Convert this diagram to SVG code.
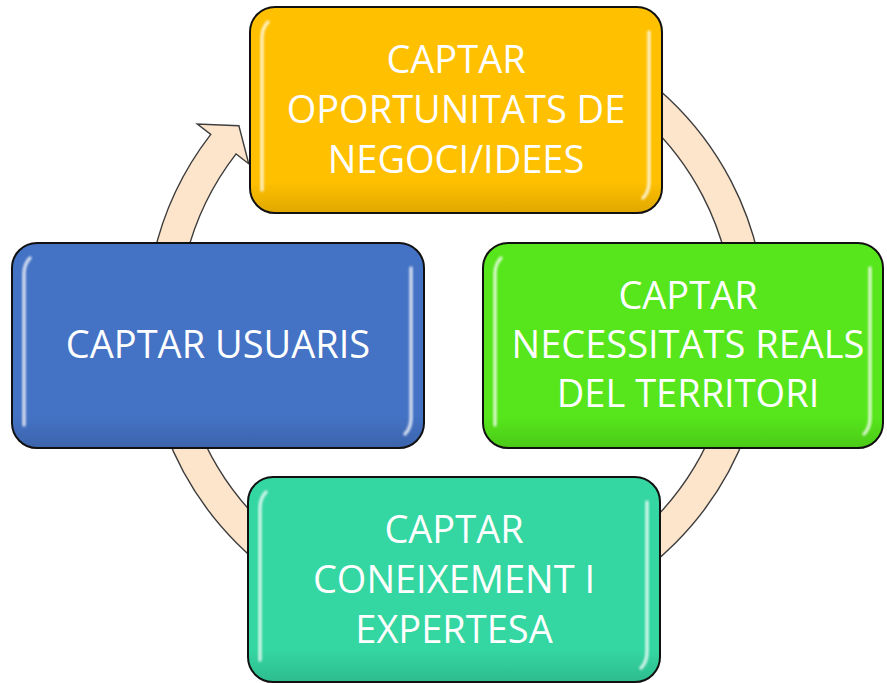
<svg xmlns="http://www.w3.org/2000/svg" width="887" height="683" viewBox="0 0 887 683">
<style>
.arrow{fill:#FDE5CC;stroke:#3d3d3d;stroke-width:1.4;stroke-linejoin:miter}
.box{stroke:#111;stroke-width:2}
.hl{fill:none;stroke:#fff;stroke-width:3.5;stroke-linecap:round;opacity:0.75;filter:url(#blur)}
.shade{fill:url(#shade)}
.lbl{font-family:"Open Sans","Liberation Sans",sans-serif;font-size:38px;fill:#fff;text-anchor:middle}
</style>
<defs>
<filter id="blur" x="-50%" y="-10%" width="200%" height="120%"><feGaussianBlur stdDeviation="0.9"/></filter>
<linearGradient id="shade" x1="0" y1="0" x2="0" y2="1">
<stop offset="0" stop-color="#000" stop-opacity="0"/>
<stop offset="0.85" stop-color="#000" stop-opacity="0"/>
<stop offset="1" stop-color="#000" stop-opacity="0.12"/>
</linearGradient>
</defs>
<rect width="887" height="683" fill="#fff"/>
<g id="connectors">
<path class="arrow" d="M150.71 270.17 A310 310 0 0 1 210.77 134.37 L197.32 123.97 L238.89 125.76 L248.74 163.73 L236.08 153.94 A278 278 0 0 0 182.22 275.73 Z"/>
<path class="arrow" d="M587.01 43.04 A310 310 0 0 1 761.29 377.83 L778.03 380.78 L740.38 398.61 L714.02 369.50 L729.78 372.27 A278 278 0 0 0 573.49 72.05 Z"/>
<path class="arrow" d="M747.30 430.03 A310 310 0 0 1 562.03 615.30 L567.84 631.28 L533.58 607.58 L545.61 570.20 L551.08 585.23 A278 278 0 0 0 717.23 419.08 Z"/>
<path class="arrow" d="M349.97 615.30 A310 310 0 0 1 164.70 430.03 L148.72 435.84 L172.42 401.58 L209.80 413.61 L194.77 419.08 A278 278 0 0 0 360.92 585.23 Z"/>
</g>
<g id="node-oportunitats">
<rect class="box" x="250" y="7" width="412" height="206" rx="25" fill="#FFC000"/>
<rect class="shade" x="251" y="8" width="410" height="204" rx="24"/>
<path class="hl" d="M262 190 L262 38 Q262 28 268 22"/>
<path class="hl" d="M649 32 L649 182 Q649 192 643 198"/>
<text class="lbl" x="456" y="73">CAPTAR</text>
<text class="lbl" x="456" y="123">OPORTUNITATS DE</text>
<text class="lbl" x="456" y="173">NEGOCI/IDEES</text>
</g>
<g id="node-necessitats">
<rect class="box" x="483" y="243" width="400" height="205" rx="25" fill="#56E61B"/>
<rect class="shade" x="484" y="244" width="398" height="203" rx="24"/>
<path class="hl" d="M495 425 L495 274 Q495 264 501 258"/>
<path class="hl" d="M870 268 L870 418 Q870 428 864 434"/>
<text class="lbl" x="688" y="309">CAPTAR</text>
<text class="lbl" x="688" y="358">NECESSITATS REALS</text>
<text class="lbl" x="688" y="407">DEL TERRITORI</text>
</g>
<g id="node-coneixement">
<rect class="box" x="248" y="477" width="412" height="205" rx="25" fill="#34D6A1"/>
<rect class="shade" x="249" y="478" width="410" height="203" rx="24"/>
<path class="hl" d="M260 660 L260 508 Q260 498 266 492"/>
<path class="hl" d="M647 502 L647 652 Q647 662 641 668"/>
<text class="lbl" x="454" y="543">CAPTAR</text>
<text class="lbl" x="454" y="593">CONEIXEMENT I</text>
<text class="lbl" x="454" y="643">EXPERTESA</text>
</g>
<g id="node-usuaris">
<rect class="box" x="12" y="243" width="412" height="205" rx="25" fill="#4472C4"/>
<rect class="shade" x="13" y="244" width="410" height="203" rx="24"/>
<path class="hl" d="M24 425 L24 274 Q24 264 30 258"/>
<path class="hl" d="M411 268 L411 418 Q411 428 405 434"/>
<text class="lbl" x="218" y="358">CAPTAR USUARIS</text>
</g>
</svg>
